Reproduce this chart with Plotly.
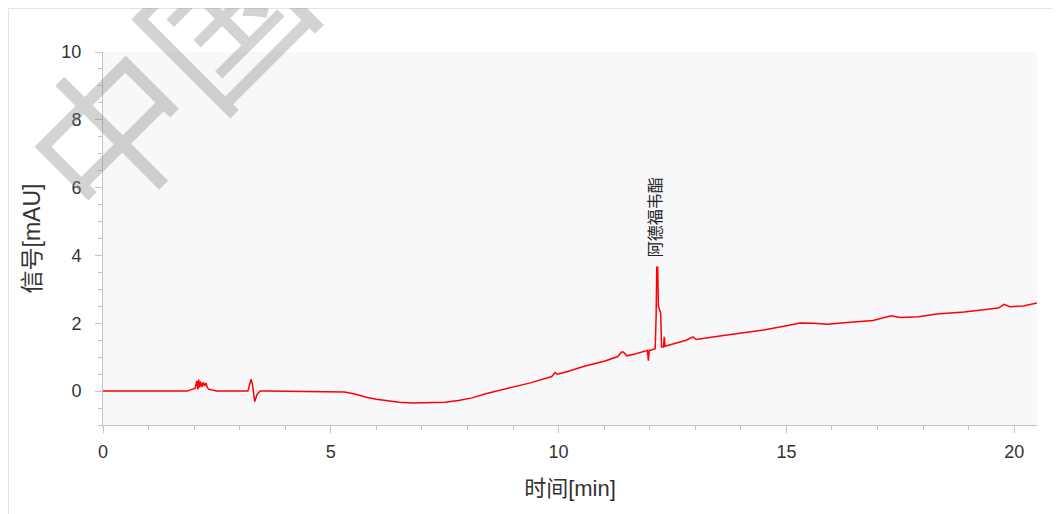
import plotly.graph_objects as go

time_min = [0, 1.0, 1.85, 1.95, 2.02, 2.06, 2.08, 2.1, 2.12, 2.14, 2.17, 2.2, 2.23, 2.26, 2.29, 2.33, 2.4, 2.5,
            3.0, 3.18, 3.22, 3.25, 3.28, 3.33, 3.38, 3.45, 3.6, 4.0, 4.5, 5.0, 5.3, 5.5, 5.8, 6.0, 6.3, 6.5,
            6.8, 7.2, 7.5, 7.8, 8.1, 8.4, 8.7, 9.0, 9.4, 9.85, 9.92, 9.97, 10.2, 10.6, 11.0, 11.3, 11.38,
            11.42, 11.5, 11.7, 11.95, 11.97, 11.99, 12.05, 12.12, 12.14, 12.155, 12.175, 12.19, 12.24, 12.26,
            12.3, 12.32, 12.335, 12.5, 12.8, 12.95, 13.02, 13.5, 14.0, 14.5, 15.0, 15.3, 15.6, 15.9, 16.4,
            16.9, 17.3, 17.5, 17.9, 18.3, 18.9, 19.5, 19.65, 19.78, 19.9, 20.2, 20.5]
signal_mau = [0, 0, 0, 0.05, 0.08, 0.3, 0.05, 0.34, 0.1, 0.28, 0.12, 0.26, 0.15, 0.24, 0.1, 0.05, 0.02, 0.0,
              0.0, 0.0, 0.2, 0.35, 0.2, -0.31, -0.1, 0.0, 0.0, -0.01, -0.01, -0.02, -0.03, -0.08, -0.19, -0.24,
              -0.3, -0.33, -0.35, -0.35, -0.33, -0.28, -0.2, -0.08, 0.02, 0.11, 0.25, 0.43, 0.55, 0.5, 0.58,
              0.75, 0.88, 1.02, 1.15, 1.15, 1.04, 1.1, 1.2, 0.9, 1.2, 1.22, 1.25, 2.2, 3.65, 3.65, 2.5, 2.3, 1.3,
              1.3, 1.6, 1.32, 1.38, 1.5, 1.6, 1.52, 1.62, 1.7, 1.8, 1.93, 2.01, 2.0, 1.97, 2.03, 2.08, 2.22,
              2.17, 2.19, 2.27, 2.33, 2.41, 2.45, 2.56, 2.49, 2.51, 2.6]

peak_name = "阿德福韦酯"
peak_time = 12.1
peak_label_y = 3.9

x_title = "时间[min]"
y_title = "信号[mAU]"
watermark = "中国"

font_fam = "Liberation Sans, Arial, Noto Sans CJK SC, sans-serif"

fig = go.Figure()
fig.add_trace(go.Scatter(x=time_min, y=signal_mau, mode="lines",
                         line=dict(color="#ff0000", width=1.5), hoverinfo="skip", showlegend=False))

fig.add_annotation(x=peak_time, y=peak_label_y, xref="x", yref="y", text=peak_name, textangle=-90,
                   showarrow=False, yanchor="bottom", xanchor="center",
                   font=dict(family="Noto Sans CJK SC, sans-serif", size=16, color="#222"))

# outer frame
fig.add_shape(type="rect", xref="paper", yref="paper", x0=-0.1012, x1=1.06, y0=-0.27, y1=1.1166,
              line=dict(color="#e2e2ea", width=1), fillcolor="rgba(0,0,0,0)", layer="below")

fig.add_annotation(x=0.063, y=0.952, xref="paper", yref="paper", text=watermark, textangle=-45,
                   showarrow=False, xanchor="center", yanchor="middle",
                   font=dict(family="Noto Sans CJK SC, sans-serif", size=160, color="rgba(128,128,128,0.35)"))

axis_common = dict(showline=True, linecolor="#c4c4c4", linewidth=1, ticks="outside", tickcolor="#c4c4c4",
                   ticklen=7, showgrid=False, zeroline=False, mirror=False, automargin=False,
                   tickfont=dict(family=font_fam, size=18, color="#333"))

fig.update_xaxes(range=[0, 20.5], tickvals=[0, 5, 10, 15, 20], title_text=x_title,
                 minor=dict(dtick=1, ticks="outside", ticklen=4, tickcolor="#c4c4c4"),
                 ticklabelstandoff=3, title_standoff=20,
                 title_font=dict(family=font_fam, size=22, color="#333"), **axis_common)
fig.update_yaxes(range=[-1, 10], tickvals=[0, 2, 4, 6, 8, 10], title_text=y_title,
                 minor=dict(dtick=0.5, ticks="outside", ticklen=4, tickcolor="#c4c4c4"),
                 ticklabelstandoff=10, title_standoff=14,
                 title_font=dict(family=font_fam, size=23, color="#333"), **axis_common)

fig.update_layout(width=1052, height=506, margin=dict(l=95, r=23, t=44, b=89),
                  plot_bgcolor="#f8f8fb", paper_bgcolor="white",
                  font=dict(family=font_fam))

fig.write_html("out.html")
